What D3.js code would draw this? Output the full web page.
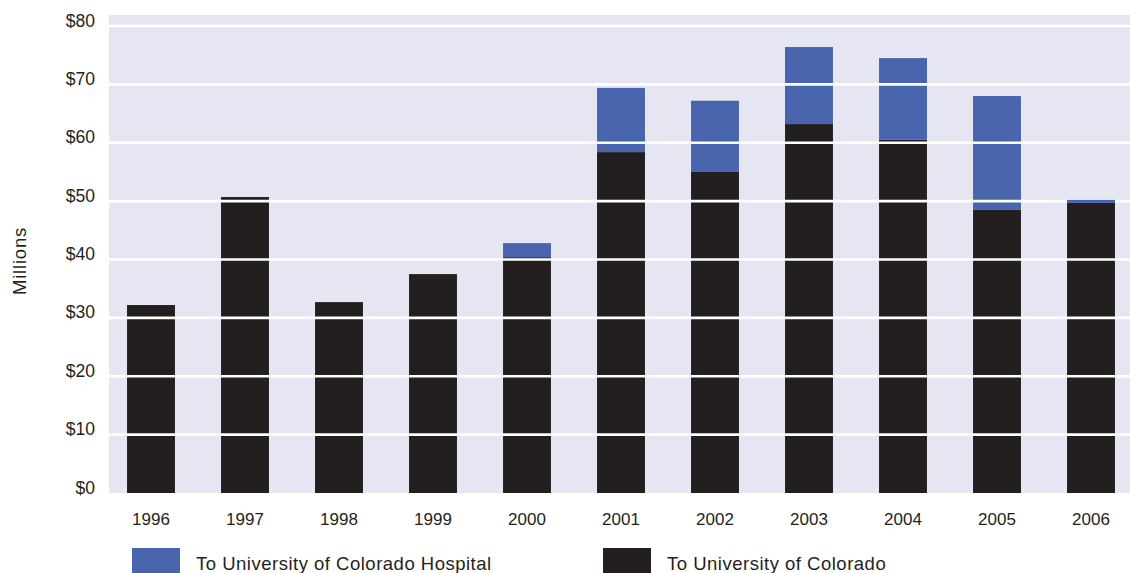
<!DOCTYPE html>
<html>
<head>
<meta charset="utf-8">
<script src="https://cdn.jsdelivr.net/npm/d3@7"></script>
<style>
  body { margin: 0; background: #fff; }
  svg { display: block; font-family: "Liberation Sans", Arial, sans-serif; }
</style>
</head>
<body>
<div id="chart"></div>
<script>
// Chart data
const years = ["1996", "1997", "1998", "1999", "2000", "2001", "2002", "2003", "2004", "2005", "2006"];
const toUniversity = [32.2, 50.7, 32.7, 37.5, 40.4, 58.4, 55.0, 63.2, 60.5, 48.5, 49.7];
const toHospital = [0, 0, 0, 0, 2.4, 11.0, 12.2, 13.2, 14.0, 19.5, 0.5];
const yTicks = [0, 10, 20, 30, 40, 50, 60, 70, 80];
const seriesNames = ["To University of Colorado Hospital", "To University of Colorado"];

const width = 1130, height = 573;
const colors = { uni: "#231f20", hosp: "#4764ad", bg: "#e6e6f2", text: "#231f20" };

const svg = d3.select("#chart")
  .append("svg")
  .attr("width", width)
  .attr("height", height);

// Scales
const x = d3.scaleBand()
  .domain(years)
  .range([104, 1138])
  .paddingInner(0.49)
  .paddingOuter(0.245);

const y = d3.scaleLinear()
  .domain([0, 80])
  .range([493, 26]);

// Plot background
svg.append("rect")
  .attr("x", 109)
  .attr("y", 15)
  .attr("width", width - 109)
  .attr("height", y(0) - 15)
  .attr("fill", colors.bg);

// Stack the two series
const rows = years.map((yr, i) => ({ year: yr, uni: toUniversity[i], hosp: toHospital[i] }));
const stacked = d3.stack().keys(["uni", "hosp"])(rows);

const drawBars = (g, layer) => g.append("g")
  .attr("fill", colors[layer.key])
  .selectAll("rect")
  .data(layer.filter(p => p[1] > p[0]))
  .join("rect")
  .attr("x", d => x(d.data.year))
  .attr("y", d => y(d[1]))
  .attr("width", x.bandwidth())
  .attr("height", d => y(d[0]) - y(d[1]));

const barG = svg.append("g");
stacked.forEach(layer => drawBars(barG, layer));

// White gridlines drawn over the bars
svg.append("g")
  .selectAll("line")
  .data(yTicks.filter(t => t > 0))
  .join("line")
  .attr("x1", 109)
  .attr("x2", width)
  .attr("y1", d => y(d))
  .attr("y2", d => y(d))
  .attr("stroke", "#fff")
  .attr("stroke-width", 2.6);

// thin hospital slivers sit above the gridline (as in 2006)
drawBars(svg, Object.assign(stacked[1].filter(p => p[1] - p[0] > 0 && p[1] - p[0] < 1), { key: "hosp" }));

// Y axis labels
const yAxis = svg.append("g")
  .attr("transform", "translate(95,0)")
  .call(d3.axisLeft(y).tickValues(yTicks).tickSize(0).tickPadding(0).tickFormat(d => "$" + d));
yAxis.select(".domain").remove();
yAxis.selectAll("text")
  .attr("dy", "0.0em")
  .attr("font-size", 17.5)
  .attr("font-family", "Liberation Sans, Arial, sans-serif")
  .attr("fill", colors.text);

// X axis labels
const xAxis = svg.append("g")
  .attr("transform", "translate(0,513)")
  .call(d3.axisBottom(x).tickSize(0).tickPadding(0));
xAxis.select(".domain").remove();
xAxis.selectAll("text")
  .attr("font-size", 17)
  .attr("font-family", "Liberation Sans, Arial, sans-serif")
  .attr("fill", colors.text);

// Axis title
svg.append("text")
  .attr("transform", "translate(25.5,261) rotate(-90)")
  .attr("text-anchor", "middle")
  .attr("font-size", 18.5)
  .attr("letter-spacing", 0.8)
  .attr("fill", colors.text)
  .text("Millions");

// Legend
const legend = [
  { name: seriesNames[0], color: colors.hosp, x: 132 },
  { name: seriesNames[1], color: colors.uni, x: 603 }
];
const lg = svg.append("g")
  .selectAll("g")
  .data(legend)
  .join("g")
  .attr("transform", d => `translate(${d.x},548)`);
lg.append("rect")
  .attr("width", 48)
  .attr("height", 30)
  .attr("fill", d => d.color);
lg.append("text")
  .attr("x", 64)
  .attr("y", 21.5)
  .attr("font-size", 18.5)
  .attr("letter-spacing", 0.5)
  .attr("fill", colors.text)
  .text(d => d.name);
</script>
</body>
</html>
